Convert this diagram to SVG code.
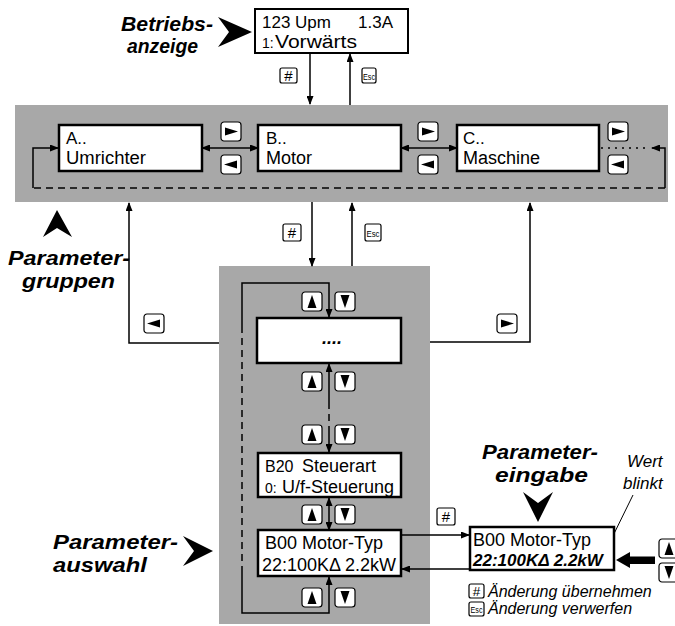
<svg xmlns="http://www.w3.org/2000/svg" width="675" height="626" viewBox="0 0 675 626">
<style>
.bg{fill:#a8a8a8}
.box{fill:#fff;stroke:#000;stroke-width:2.5}
.ln{stroke:#000;stroke-width:1.5;fill:none}
.dash{stroke-dasharray:7 5}
.dot{stroke-dasharray:2 5}
.btn{fill:#fff;stroke:#000;stroke-width:1.2}
.g{fill:#000}
.t{font-family:"Liberation Sans",Arial,sans-serif;font-size:18px;fill:#000}
.s{font-size:14px}
.lbl{font-family:"Liberation Sans",Arial,sans-serif;font-weight:bold;font-style:italic;font-size:21px;fill:#000}
.it{font-family:"Liberation Sans",Arial,sans-serif;font-style:italic;font-size:16px;fill:#000}
.bt{font-family:"Liberation Sans",Arial,sans-serif;font-size:15px;fill:#000}
.esc{font-family:"Liberation Sans",Arial,sans-serif;font-size:9.5px;fill:#000}
</style>
<defs>
<marker id="ah" markerUnits="userSpaceOnUse" markerWidth="9" markerHeight="7" refX="8" refY="3.5" orient="auto-start-reverse"><path d="M0,0 L9,3.5 L0,7 z" fill="#000"/></marker>
<marker id="ahs" markerUnits="userSpaceOnUse" markerWidth="8" markerHeight="8" refX="7" refY="4" orient="auto"><path d="M0,0 L7,4 L0,8" fill="none" stroke="#000" stroke-width="1.2"/></marker>
<g id="bR"><rect class="btn" x="0" y="0" width="20" height="19" rx="3"/><polygon class="g" points="4,5.5 17,9.5 4,13.5"/></g>
<g id="bL"><rect class="btn" x="0" y="0" width="20" height="19" rx="3"/><polygon class="g" points="16,5.5 3,9.5 16,13.5"/></g>
<g id="bU"><rect class="btn" x="0" y="0" width="20" height="19" rx="3"/><polygon class="g" points="10,3 14.5,16 5.5,16"/></g>
<g id="bD"><rect class="btn" x="0" y="0" width="20" height="19" rx="3"/><polygon class="g" points="5.5,3 14.5,3 10,16"/></g>
</defs>

<!-- backgrounds -->
<rect class="bg" x="15" y="105" width="653" height="97"/>
<rect class="bg" x="219" y="266" width="211" height="358"/>

<!-- connectors -->
<g id="connectors">
<path class="ln" d="M310,53 V104" marker-end="url(#ah)"/>
<path class="ln" d="M350,105 V54" marker-end="url(#ah)"/>
<path class="ln" d="M202,148 H258" marker-start="url(#ah)" marker-end="url(#ah)"/>
<path class="ln" d="M401,148 H457" marker-start="url(#ah)" marker-end="url(#ah)"/>
<path class="ln dot" d="M601,148 H648"/>
<path class="ln" d="M665,188 V148 H652" marker-end="url(#ah)"/>
<path class="ln dash" d="M665,188 H33"/>
<path class="ln" d="M33,188 V148 H58" marker-end="url(#ah)"/>
<path class="ln" d="M312,202 V266" marker-end="url(#ah)"/>
<path class="ln" d="M352,266 V203" marker-end="url(#ah)"/>
<path class="ln" d="M219,343 H129 V203" marker-end="url(#ah)"/>
<path class="ln" d="M430,342 H530 V203" marker-end="url(#ah)"/>
<path class="ln" d="M242,326 V283 H329 V317" marker-end="url(#ah)"/>
<path class="ln dash" d="M242,326 V570"/>
<path class="ln" d="M242,570 V613 H329 V577" marker-end="url(#ah)"/>
<path class="ln" d="M329,402 V364" marker-end="url(#ah)"/>
<path class="ln dash" d="M329,402 V432"/>
<path class="ln" d="M329,432 V452" marker-end="url(#ah)"/>
<path class="ln" d="M329,498 V530" marker-start="url(#ah)" marker-end="url(#ah)"/>
<path class="ln" d="M402,535 H469" marker-end="url(#ah)"/>
<path class="ln" d="M470,569 H402" marker-end="url(#ah)"/>
<path d="M633,495 L607,548" fill="none" stroke="#000" stroke-width="1" marker-end="url(#ahs)"/>
<polygon class="g" points="616,560 630,552 630,556.5 655,556.5 655,564 630,564 630,568"/>
</g>

<!-- chevrons -->
<polygon class="g" points="252,32 218,17 229,32 218,47"/>
<polygon class="g" points="213,551 183,536 194,551 183,566"/>
<polygon class="g" points="57,210 72,237 57,228 43,237"/>
<polygon class="g" points="538,522 523,492 538,503 553,492"/>

<!-- labels -->
<text class="lbl" x="121" y="31" textLength="92" lengthAdjust="spacingAndGlyphs">Betriebs-</text>
<text class="lbl" x="127" y="53" textLength="71" lengthAdjust="spacingAndGlyphs">anzeige</text>
<text class="lbl" x="8" y="265" textLength="122" lengthAdjust="spacingAndGlyphs">Parameter-</text>
<text class="lbl" x="22" y="288" textLength="93" lengthAdjust="spacingAndGlyphs">gruppen</text>
<text class="lbl" x="53" y="549" textLength="125" lengthAdjust="spacingAndGlyphs">Parameter-</text>
<text class="lbl" x="53" y="572" textLength="94" lengthAdjust="spacingAndGlyphs">auswahl</text>
<text class="lbl" x="482" y="459" textLength="116" lengthAdjust="spacingAndGlyphs">Parameter-</text>
<text class="lbl" x="495" y="482" textLength="93" lengthAdjust="spacingAndGlyphs">eingabe</text>
<text class="it" x="627" y="467" style="font-size:17px">Wert</text>
<text class="it" x="623" y="489" style="font-size:17px">blinkt</text>

<!-- nodes -->
<g id="betriebsanzeige">
<rect class="box" x="255" y="9" width="153" height="44" style="stroke-width:2"/>
<text class="t" x="262" y="28" style="font-size:17px">123 Upm</text>
<text class="t" x="358" y="28" style="font-size:17px">1.3A</text>
<text class="t s" x="262" y="48">1:</text>
<text class="t" x="275" y="48" textLength="82" lengthAdjust="spacingAndGlyphs">Vorwärts</text>
</g>
<g id="gruppeA">
<rect class="box" x="59" y="125" width="143" height="46"/>
<text class="t" x="66" y="144" style="font-size:17px">A..</text>
<text class="t" x="66" y="164" textLength="80" lengthAdjust="spacingAndGlyphs">Umrichter</text>
</g>
<g id="gruppeB">
<rect class="box" x="258" y="125" width="143" height="46"/>
<text class="t" x="266" y="144" style="font-size:17px">B..</text>
<text class="t" x="266" y="164">Motor</text>
</g>
<g id="gruppeC">
<rect class="box" x="457" y="125" width="142" height="46"/>
<text class="t" x="463" y="144" style="font-size:17px">C..</text>
<text class="t" x="463" y="164">Maschine</text>
</g>
<g id="paramDots">
<rect class="box" x="257" y="318" width="144" height="45"/>
<text class="lbl" x="332" y="344" text-anchor="middle" style="font-size:18px">....</text>
</g>
<g id="paramB20">
<rect class="box" x="258" y="453" width="143" height="44"/>
<text class="t" x="265" y="472" style="font-size:16px">B20</text>
<text class="t" x="302" y="472">Steuerart</text>
<text class="t s" x="265" y="493">0:</text>
<text class="t" x="282" y="493">U/f-Steuerung</text>
</g>
<g id="paramB00">
<rect class="box" x="258" y="530" width="143" height="46"/>
<text class="t" x="265" y="549">B00 Motor-Typ</text>
<text class="t" x="262" y="571">22:100KΔ 2.2kW</text>
</g>
<g id="eingabe">
<rect class="box" x="470" y="527" width="144" height="43"/>
<text class="t" x="473" y="546">B00 Motor-Typ</text>
<text class="lbl" x="473" y="566" style="font-size:17px">22:100KΔ 2.2kW</text>
</g>

<!-- buttons -->
<g id="buttons">
<rect class="btn" x="280" y="68" width="17" height="15" rx="2"/><text class="bt" x="288.5" y="81" text-anchor="middle">#</text>
<rect class="btn" x="362" y="68" width="14" height="15" rx="2"/><text class="esc" x="369" y="79.5" text-anchor="middle" textLength="12" lengthAdjust="spacingAndGlyphs">Esc</text>
<use href="#bR" x="221" y="122"/><use href="#bL" x="221" y="155"/>
<use href="#bR" x="418" y="122"/><use href="#bL" x="418" y="155"/>
<use href="#bR" x="608" y="122"/><use href="#bL" x="608" y="155"/>
<rect class="btn" x="283" y="224" width="18" height="17" rx="2"/><text class="bt" x="292" y="238" text-anchor="middle">#</text>
<rect class="btn" x="365" y="224" width="16" height="17" rx="2"/><text class="esc" x="373" y="236.5" text-anchor="middle" textLength="13" lengthAdjust="spacingAndGlyphs">Esc</text>
<use href="#bL" x="144" y="314"/>
<use href="#bR" x="497" y="314"/>
<use href="#bU" x="302" y="292"/><use href="#bD" x="335" y="292"/>
<use href="#bU" x="302" y="372"/><use href="#bD" x="335" y="372"/>
<use href="#bU" x="302" y="425"/><use href="#bD" x="335" y="425"/>
<use href="#bU" x="302" y="505"/><use href="#bD" x="335" y="505"/>
<use href="#bU" x="302" y="588"/><use href="#bD" x="335" y="588"/>
<rect class="btn" x="437" y="508" width="18" height="17" rx="2"/><text class="bt" x="446" y="522" text-anchor="middle">#</text>
<use href="#bU" x="659" y="539"/><use href="#bD" x="659" y="563"/>
<rect class="btn" x="469" y="584" width="15" height="14" rx="2"/><text class="bt" x="476.5" y="596" text-anchor="middle" style="font-size:13.5px">#</text>
<rect class="btn" x="469" y="602" width="15" height="14" rx="2"/><text class="esc" x="476.5" y="613" text-anchor="middle" textLength="12" lengthAdjust="spacingAndGlyphs">Esc</text>
</g>
<text class="it" x="488" y="597">Änderung übernehmen</text>
<text class="it" x="488" y="614">Änderung verwerfen</text>
</svg>
